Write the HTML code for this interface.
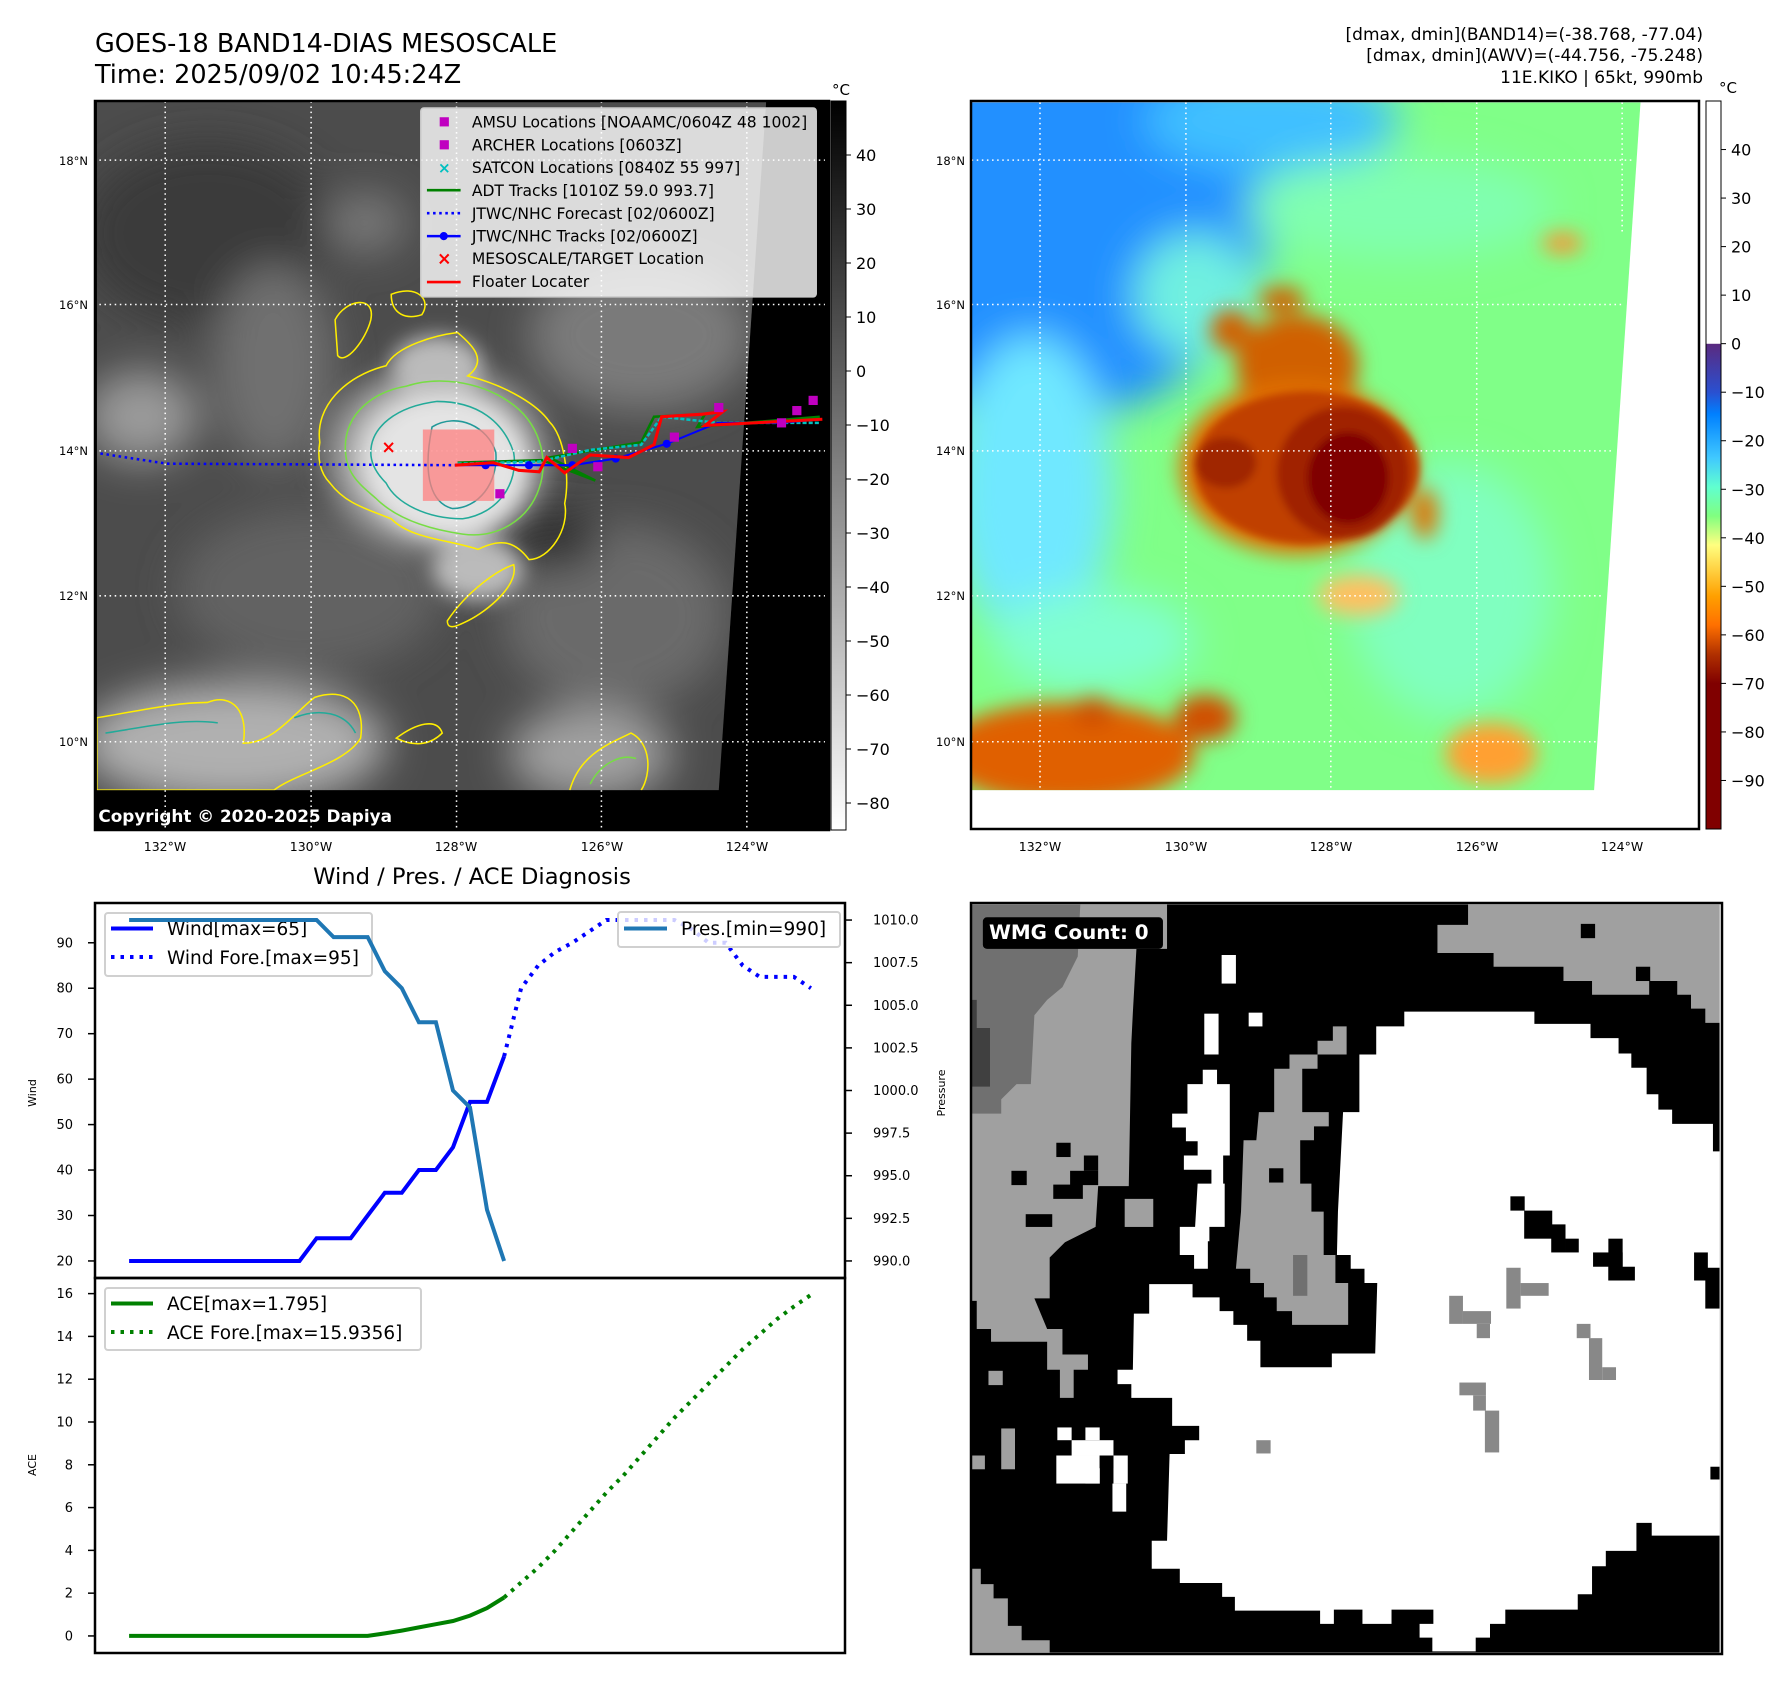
<!DOCTYPE html>
<html><head><meta charset="utf-8"><style>
html,body{margin:0;padding:0;background:#fff;}
body{width:1788px;height:1690px;position:relative;overflow:hidden;font-family:"Liberation Sans","DejaVu Sans",sans-serif;}
svg text{font-family:"DejaVu Sans","Liberation Sans",sans-serif;}
</style></head><body>
<svg id="root" width="1788" height="1690" viewBox="0 0 1788 1690" xmlns="http://www.w3.org/2000/svg">
<defs>
<filter id="b8" x="-50%" y="-50%" width="200%" height="200%"><feGaussianBlur stdDeviation="8"/></filter>
<filter id="b20" x="-50%" y="-50%" width="200%" height="200%"><feGaussianBlur stdDeviation="20"/></filter>
<filter id="b40" x="-50%" y="-50%" width="200%" height="200%"><feGaussianBlur stdDeviation="40"/></filter>
<linearGradient id="cb1" x1="0" y1="0" x2="0" y2="1"><stop offset="0" stop-color="#000"/><stop offset="1" stop-color="#fff"/></linearGradient>
<linearGradient id="cb2" x1="0" y1="0" x2="0" y2="1">
<stop offset="0" stop-color="#fff"/><stop offset="0.333" stop-color="#fff"/>
<stop offset="0.334" stop-color="#5a2a80"/><stop offset="0.4" stop-color="#2a50d0"/><stop offset="0.43" stop-color="#0080ff"/>
<stop offset="0.49" stop-color="#40c8ff"/><stop offset="0.53" stop-color="#60ffd0"/><stop offset="0.57" stop-color="#80ff80"/>
<stop offset="0.61" stop-color="#ffff80"/><stop offset="0.68" stop-color="#ffa000"/><stop offset="0.72" stop-color="#ff7000"/>
<stop offset="0.76" stop-color="#b03000"/><stop offset="0.8" stop-color="#800000"/><stop offset="1" stop-color="#800000"/></linearGradient>
<radialGradient id="stormG"><stop offset="0" stop-color="#f2f2f2"/><stop offset="0.55" stop-color="#d8d8d8"/><stop offset="1" stop-color="#d0d0d0" stop-opacity="0"/></radialGradient>
<clipPath id="clip1"><polygon points="33,42 1345,42 1252,1392 33,1392"/></clipPath>
<clipPath id="clip2"><polygon points="62,44 1373,44 1282,1392 62,1392"/></clipPath>
<clipPath id="clipW"><rect x="62" y="48" width="1466" height="1466"/></clipPath>
</defs>

<!-- titles -->
<text x="95" y="52" font-size="25.5">GOES-18 BAND14-DIAS MESOSCALE</text>
<text x="95" y="83" font-size="25.5">Time: 2025/09/02 10:45:24Z</text>
<g font-size="17" text-anchor="end">
<text x="1703" y="40">[dmax, dmin](BAND14)=(-38.768, -77.04)</text>
<text x="1703" y="61">[dmax, dmin](AWV)=(-44.756, -75.248)</text>
<text x="1703" y="83">11E.KIKO | 65kt, 990mb</text>
</g>

<!-- MAP 1 -->
<g>
<rect x="95" y="101" width="734" height="729" fill="#000"/>
<g transform="translate(80,80) scale(0.5102)">
<g clip-path="url(#clip1)">
<rect x="0" y="0" width="1500" height="1500" fill="#4c4c4c"/>
<g filter="url(#b40)">
<ellipse cx="250" cy="300" rx="250" ry="180" fill="#3a3a3a"/>
<ellipse cx="120" cy="660" rx="110" ry="90" fill="#9a9a9a"/>
<ellipse cx="380" cy="560" rx="120" ry="200" fill="#707070"/>
<ellipse cx="1100" cy="500" rx="220" ry="150" fill="#7a7a7a"/>
<ellipse cx="1050" cy="1050" rx="220" ry="180" fill="#6a6a6a"/>
<ellipse cx="450" cy="1000" rx="260" ry="160" fill="#626262"/>
<ellipse cx="300" cy="1300" rx="300" ry="120" fill="#b0b0b0"/>
<ellipse cx="1000" cy="1320" rx="160" ry="90" fill="#a0a0a0"/>
<ellipse cx="920" cy="900" rx="100" ry="60" fill="#333"/>
<ellipse cx="560" cy="280" rx="80" ry="60" fill="#777"/>
</g>
<g filter="url(#b20)">
<ellipse cx="700" cy="740" rx="250" ry="210" fill="url(#stormG)"/>
<ellipse cx="720" cy="760" rx="160" ry="140" fill="#e4e4e4"/>
<ellipse cx="780" cy="960" rx="90" ry="60" fill="#bbb"/>
<ellipse cx="700" cy="560" rx="90" ry="60" fill="#bbb"/>
</g>
<g fill="none" stroke-width="3">
<path d="M470,710 C460,640 520,580 600,560 C620,520 700,500 740,495 C770,520 800,550 760,580 C840,600 900,640 920,670 C950,700 960,780 950,830 C960,880 920,940 880,940 C850,900 820,900 780,920 C720,900 650,900 610,860 C560,840 520,830 490,790 C470,770 465,740 470,710 Z" stroke="#ffee00"/>
<path d="M520,720 C520,650 580,610 640,600 C700,580 780,590 840,630 C900,670 920,740 900,800 C880,860 820,900 750,890 C680,880 620,860 580,820 C545,790 520,770 520,720 Z" stroke="#77dd44"/>
<path d="M570,730 C570,680 620,640 700,630 C780,630 830,670 850,730 C860,790 820,850 750,860 C680,860 620,830 600,790 C580,770 570,750 570,730 Z" stroke="#22aa99"/>
<path d="M690,680 C740,650 800,680 815,730 C820,790 780,840 730,840 C690,830 670,780 690,680 Z" stroke="#229999"/>
<path d="M500,470 C520,430 580,420 570,470 C560,510 520,560 505,540 Z" stroke="#ffee00"/>
<path d="M610,420 C660,400 690,430 670,460 C640,470 610,460 610,420 Z" stroke="#ffee00"/>
<path d="M720,1060 C760,1000 820,960 850,950 C860,990 800,1040 760,1060 C740,1070 720,1080 720,1060 Z" stroke="#ffee00"/>
<path d="M33,1250 C100,1240 180,1220 250,1220 C300,1200 330,1240 320,1300 C380,1300 420,1240 460,1210 C520,1190 560,1220 550,1290 C520,1340 420,1360 380,1392 L33,1392 Z" stroke="#ffee00"/>
<path d="M50,1280 C120,1270 200,1250 270,1260 M420,1250 C470,1230 520,1240 540,1280" stroke="#22aa99"/>
<path d="M960,1392 C980,1320 1040,1300 1080,1280 C1120,1300 1120,1360 1100,1392" stroke="#ffee00"/>
<path d="M1000,1380 C1020,1340 1060,1320 1090,1330" stroke="#77dd44"/>
<path d="M620,1290 C660,1260 700,1250 710,1280 C690,1300 660,1310 620,1290 Z" stroke="#ffee00"/>
</g>
</g>
<g stroke="#fff" stroke-width="3" stroke-dasharray="3,7">
<line x1="167" y1="42" x2="167" y2="1470"/><line x1="453" y1="42" x2="453" y2="1470"/><line x1="738" y1="42" x2="738" y2="1470"/><line x1="1022" y1="42" x2="1022" y2="1470"/><line x1="1307" y1="42" x2="1307" y2="1470"/>
<line x1="28" y1="157" x2="1460" y2="157"/><line x1="28" y1="440" x2="1460" y2="440"/><line x1="28" y1="727" x2="1460" y2="727"/><line x1="28" y1="1011" x2="1460" y2="1011"/><line x1="28" y1="1297" x2="1460" y2="1297"/>
</g>
<rect x="672" y="685" width="140" height="140" fill="#ff8080" fill-opacity="0.75"/>
<polyline points="40,732 170,752 740,755" fill="none" stroke="#0000ff" stroke-width="5" stroke-dasharray="5,7"/>
<polyline points="740,750 905,745 1010,785 920,740 1100,710 1125,660 1225,655 1210,680 1450,660" fill="none" stroke="#008000" stroke-width="5"/>
<polyline points="740,752 900,748 1000,725 1100,715 1140,660 1250,672 1450,672" fill="none" stroke="#00c0c0" stroke-width="5" stroke-dasharray="8,4"/>
<polyline points="740,755 795,755 880,755 965,755 1050,742 1150,713 1250,672 1375,672 1450,665" fill="none" stroke="#0000ff" stroke-width="4"/>
<g fill="#0000ff"><circle cx="795" cy="755" r="8"/><circle cx="880" cy="755" r="8"/><circle cx="965" cy="755" r="8"/><circle cx="1050" cy="742" r="8"/><circle cx="1150" cy="713" r="8"/><circle cx="1375" cy="672" r="8"/></g>
<polyline points="735,755 810,750 860,765 900,768 915,740 950,770 1000,735 1075,740 1125,715 1140,660 1220,655 1260,650 1225,677 1455,665" fill="none" stroke="#ff0000" stroke-width="6"/>
<g fill="#c000c0"><rect x="814" y="802" width="18" height="18"/><rect x="1006" y="749" width="18" height="18"/><rect x="1156" y="691" width="18" height="18"/><rect x="1243" y="633" width="18" height="18"/><rect x="1396" y="639" width="18" height="18"/><rect x="1428" y="619" width="18" height="18"/><rect x="1366" y="663" width="18" height="18"/><rect x="956" y="713" width="18" height="18"/></g>
<text x="605" y="731" font-size="34" fill="#ff0000" text-anchor="middle" font-weight="bold">×</text>
<g>
<rect x="668" y="55" width="775" height="370" rx="6" fill="#fff" fill-opacity="0.8" stroke="#ccc" stroke-width="3"/>
<rect x="705" y="73" width="18" height="18" fill="#c000c0"/>
<rect x="705" y="118" width="18" height="18" fill="#c000c0"/>
<text x="714" y="182" font-size="30" fill="#00c0c0" text-anchor="middle" font-weight="bold">×</text>
<line x1="680" y1="216" x2="746" y2="216" stroke="#008000" stroke-width="5"/>
<line x1="680" y1="261" x2="746" y2="261" stroke="#0000ff" stroke-width="5" stroke-dasharray="5,7"/>
<line x1="680" y1="306" x2="746" y2="306" stroke="#0000ff" stroke-width="5"/><circle cx="713" cy="306" r="8" fill="#0000ff"/>
<text x="714" y="362" font-size="34" fill="#ff0000" text-anchor="middle" font-weight="bold">×</text>
<line x1="680" y1="396" x2="746" y2="396" stroke="#ff0000" stroke-width="5"/>
<g font-size="30.5" fill="#000">
<text x="768" y="93">AMSU Locations [NOAAMC/0604Z 48 1002]</text>
<text x="768" y="138">ARCHER Locations [0603Z]</text>
<text x="768" y="182">SATCON Locations [0840Z 55 997]</text>
<text x="768" y="227">ADT Tracks [1010Z 59.0 993.7]</text>
<text x="768" y="272">JTWC/NHC Forecast [02/0600Z]</text>
<text x="768" y="317">JTWC/NHC Tracks [02/0600Z]</text>
<text x="768" y="361">MESOSCALE/TARGET Location</text>
<text x="768" y="406">Floater Locater</text>
</g></g>
<text x="36" y="1454" font-size="33" font-weight="bold" fill="#fff">Copyright © 2020-2025 Dapiya</text>
</g>
<rect x="95" y="101" width="734" height="729" fill="none" stroke="#000" stroke-width="2.5"/>
</g>
<g font-size="11.5" text-anchor="end">
<text x="88" y="165">18°N</text><text x="88" y="309">16°N</text><text x="88" y="455">14°N</text><text x="88" y="600">12°N</text><text x="88" y="746">10°N</text>
</g>
<g font-size="12.5" text-anchor="middle">
<text x="165" y="851">132°W</text><text x="311" y="851">130°W</text><text x="456" y="851">128°W</text><text x="602" y="851">126°W</text><text x="747" y="851">124°W</text>
</g>
<g>
<rect x="831" y="101" width="15" height="729" fill="url(#cb1)" stroke="#000" stroke-width="1"/>
<text x="841" y="95" font-size="15" text-anchor="middle">°C</text>
<g id="cb1ticks" font-size="16"></g>
</g>

<!-- MAP 2 -->
<g>
<rect x="971" y="101" width="728" height="728" fill="#fff"/>
<g transform="translate(940,80) scale(0.5102)">
<g clip-path="url(#clip2)">
<rect x="0" y="0" width="1500" height="1500" fill="#80ff88"/>
<g filter="url(#b40)">
<ellipse cx="200" cy="250" rx="450" ry="420" fill="#2090ff"/>
<ellipse cx="650" cy="80" rx="250" ry="100" fill="#40c0ff"/>
<ellipse cx="180" cy="800" rx="160" ry="300" fill="#70e8ff"/>
<ellipse cx="500" cy="420" rx="120" ry="120" fill="#70f0e0"/>
<ellipse cx="900" cy="250" rx="300" ry="100" fill="#80ffb0"/>
<ellipse cx="1000" cy="1000" rx="200" ry="250" fill="#80ffc0"/>
<ellipse cx="300" cy="1100" rx="200" ry="100" fill="#80ffd0"/>
</g>
<g filter="url(#b20)">
<ellipse cx="250" cy="1320" rx="250" ry="100" fill="#e06000"/>
<ellipse cx="520" cy="1250" rx="60" ry="45" fill="#d05000"/>
<ellipse cx="300" cy="1240" rx="40" ry="30" fill="#d05000"/>
<ellipse cx="1080" cy="1320" rx="90" ry="60" fill="#ffa030"/>
<ellipse cx="820" cy="1010" rx="80" ry="40" fill="#ffc060"/>
<ellipse cx="700" cy="560" rx="120" ry="100" fill="#d06000"/>
<ellipse cx="700" cy="760" rx="230" ry="170" fill="#e07000"/>
<ellipse cx="570" cy="490" rx="40" ry="40" fill="#d06000"/>
<ellipse cx="670" cy="430" rx="45" ry="25" fill="#d06000"/>
<ellipse cx="950" cy="850" rx="25" ry="50" fill="#e07000"/>
<ellipse cx="1220" cy="320" rx="40" ry="20" fill="#ff9030"/>
</g>
<g filter="url(#b8)">
<ellipse cx="720" cy="760" rx="220" ry="150" fill="#c04000"/>
<ellipse cx="790" cy="770" rx="130" ry="130" fill="#a02000"/>
<ellipse cx="800" cy="780" rx="80" ry="90" fill="#800000"/>
<ellipse cx="560" cy="750" rx="60" ry="50" fill="#a02800"/>
</g>
</g>
<g stroke="#fff" stroke-width="3" stroke-dasharray="3,7">
<line x1="196" y1="44" x2="196" y2="1392"/><line x1="482" y1="44" x2="482" y2="1392"/><line x1="766" y1="44" x2="766" y2="1392"/><line x1="1052" y1="44" x2="1052" y2="1392"/><line x1="1337" y1="44" x2="1337" y2="300"/>
<line x1="62" y1="157" x2="1360" y2="157"/><line x1="62" y1="440" x2="1340" y2="440"/><line x1="62" y1="727" x2="1318" y2="727"/><line x1="62" y1="1011" x2="1298" y2="1011"/><line x1="62" y1="1297" x2="1286" y2="1297"/>
</g>
</g>
<rect x="971" y="101" width="728" height="728" fill="none" stroke="#000" stroke-width="2.5"/>
</g>
<g font-size="11.5" text-anchor="end">
<text x="965" y="165">18°N</text><text x="965" y="309">16°N</text><text x="965" y="455">14°N</text><text x="965" y="600">12°N</text><text x="965" y="746">10°N</text>
</g>
<g font-size="12.5" text-anchor="middle">
<text x="1040" y="851">132°W</text><text x="1186" y="851">130°W</text><text x="1331" y="851">128°W</text><text x="1477" y="851">126°W</text><text x="1622" y="851">124°W</text>
</g>
<g>
<rect x="1706" y="101" width="15" height="728" fill="url(#cb2)" stroke="#000" stroke-width="1"/>
<text x="1728" y="93" font-size="15" text-anchor="middle">°C</text>
<g id="cb2ticks" font-size="16"></g>
</g>

<!-- LINE CHARTS -->
<text x="472" y="884" font-size="22.6" text-anchor="middle">Wind / Pres. / ACE Diagnosis</text>
<g id="windChart"></g>
<g id="aceChart"></g>
<text transform="translate(36,1093) rotate(-90)" font-size="11" text-anchor="middle">Wind</text>
<text transform="translate(945,1093) rotate(-90)" font-size="11" text-anchor="middle">Pressure</text>
<text transform="translate(36,1465) rotate(-90)" font-size="11" text-anchor="middle">ACE</text>

<!-- WMG -->
<g>
<g transform="translate(940,880) scale(0.5102)">
<g clip-path="url(#clipW)">
<rect x="58" y="44" width="1474" height="1473" fill="#000"/>
<polygon fill="#a0a0a0" points="62,48 445,48 445,135 385,135 378,260 375,320 370,600 310,600 305,680 245,710 215,740 215,820 185,820 210,880 240,880 240,930 290,930 290,960 262,960 262,1015 235,1015 235,960 210,960 210,905 100,905 100,880 72,880 72,825 62,825"/>
<polygon fill="#707070" points="62,48 275,48 270,150 240,210 210,235 185,265 178,400 150,400 120,430 120,458 62,458"/>
<polygon fill="#404040" points="62,235 72,235 72,290 98,290 98,405 62,405"/>
<g fill="#000"><rect x="228" y="515" width="28" height="28"/><rect x="140" y="570" width="30" height="28"/><rect x="282" y="540" width="28" height="30"/><rect x="255" y="570" width="55" height="28"/><rect x="222" y="597" width="58" height="28"/><rect x="168" y="655" width="52" height="25"/></g>
<rect x="362" y="625" width="56" height="55" fill="#a0a0a0"/>
<polygon fill="#a0a0a0" points="770,287 797,287 797,342 740,342 740,370 710,370 710,455 762,455 762,483 733,483 733,510 706,510 706,595 728,595 728,650 752,650 752,735 775,735 775,790 800,790 800,872 690,872 690,845 660,845 660,818 635,818 635,790 608,790 608,762 580,762 590,650 595,510 620,510 625,455 655,455 655,370 685,370 685,342 740,342 740,315 770,315"/>
<rect x="645" y="565" width="28" height="28" fill="#000"/>
<rect x="692" y="735" width="28" height="80" fill="#707070"/>
<polygon fill="#a0a0a0" points="975,88 1035,88 1035,48 1528,48 1528,280 1500,280 1500,252 1472,252 1472,225 1445,225 1445,198 1390,198 1390,225 1278,225 1278,198 1222,198 1222,170 1085,170 1085,143 975,143"/>
<rect x="1256" y="86" width="28" height="28" fill="#000"/><rect x="1364" y="170" width="28" height="28" fill="#000"/>
<polygon fill="#fff" points="910,258 1165,258 1165,282 1275,282 1275,310 1330,310 1330,340 1355,340 1355,368 1385,368 1385,420 1408,420 1408,450 1435,450 1435,478 1515,478 1515,532 1528,532 1528,1285 1395,1285 1395,1260 1365,1260 1365,1315 1305,1315 1305,1345 1278,1345 1278,1400 1250,1400 1250,1430 1108,1430 1108,1458 1078,1458 1078,1485 1050,1485 1050,1512 965,1512 965,1485 940,1485 940,1458 967,1458 967,1430 885,1430 885,1458 828,1458 828,1430 772,1430 772,1458 745,1458 745,1432 578,1432 578,1405 553,1405 553,1378 470,1378 470,1350 415,1350 415,1295 445,1295 450,1125 480,1125 480,1098 508,1098 508,1070 455,1070 455,1015 375,1015 375,988 348,988 348,960 378,960 380,850 410,850 410,792 495,792 495,818 548,818 548,845 575,845 575,872 602,872 602,903 628,903 628,955 768,955 768,928 853,928 857,790 832,790 832,762 805,762 805,735 778,735 780,650 790,455 822,455 822,342 855,342 855,287 910,287"/>
<g fill="#000"><rect x="1118" y="620" width="28" height="28"/><rect x="1145" y="648" width="55" height="55"/><rect x="1198" y="675" width="28" height="55"/><rect x="1226" y="703" width="26" height="27"/><rect x="1310" y="703" width="28" height="82"/><rect x="1280" y="730" width="58" height="28"/><rect x="1310" y="758" width="52" height="27"/><rect x="1478" y="730" width="27" height="55"/><rect x="1500" y="760" width="28" height="80"/><rect x="1510" y="1150" width="18" height="25"/></g>
<g fill="#888"><rect x="1110" y="760" width="28" height="80"/><rect x="1138" y="790" width="55" height="25"/><rect x="998" y="815" width="27" height="55"/><rect x="1025" y="845" width="55" height="25"/><rect x="1052" y="870" width="26" height="28"/><rect x="1248" y="870" width="27" height="28"/><rect x="1272" y="898" width="26" height="82"/><rect x="1298" y="955" width="27" height="25"/><rect x="1018" y="985" width="52" height="25"/><rect x="1045" y="1010" width="25" height="30"/><rect x="1068" y="1040" width="28" height="82"/><rect x="620" y="1098" width="28" height="26"/></g>
<g fill="#fff"><rect x="552" y="147" width="28" height="56"/><rect x="518" y="262" width="28" height="80"/><rect x="605" y="260" width="27" height="27"/></g>
<polygon fill="#fff" points="515,372 543,372 543,400 568,400 568,540 555,540 555,595 558,595 558,680 528,680 528,708 525,708 525,762 498,762 498,735 470,735 470,680 500,680 505,595 532,595 532,568 478,568 478,540 505,540 505,512 482,512 482,485 455,485 455,458 485,458 485,400 515,400"/>
<polygon fill="#a0a0a0" points="62,1350 80,1350 80,1380 105,1380 105,1408 133,1408 133,1462 160,1462 160,1490 215,1490 215,1517 62,1517"/>
<g fill="#a0a0a0"><rect x="95" y="962" width="28" height="28"/><rect x="120" y="1075" width="27" height="80"/><rect x="62" y="1128" width="26" height="27"/></g>
<g fill="#fff"><rect x="230" y="1073" width="28" height="25"/><rect x="285" y="1073" width="28" height="25"/><rect x="258" y="1098" width="82" height="30"/><rect x="228" y="1128" width="85" height="55"/><rect x="340" y="1128" width="28" height="55"/><rect x="338" y="1183" width="27" height="55"/></g>
<rect x="313" y="1128" width="27" height="25" fill="#000"/><rect x="285" y="1153" width="28" height="30" fill="#fff"/>
</g>
<rect x="84" y="73" width="353" height="62" rx="8" fill="#000"/>
<text x="96" y="116" font-size="39" font-weight="bold" fill="#fff">WMG Count: 0</text>
</g>
<rect x="971" y="903" width="751" height="751" fill="none" stroke="#000" stroke-width="2.5"/>
</g>
</svg>
<script>
const windObs = [20,20,20,20,20,20,20,20,20,20,20,25,25,25,30,35,35,40,40,45,55,55,65];
const windFore = [65,80,85,88,90,92.5,95,95,95,95,95,93,90,90,85,82.5,82.5,82.5,80];
const presObs = [1010,1010,1010,1010,1010,1010,1010,1010,1010,1010,1010,1010,1009,1009,1009,1007,1006,1004,1004,1000,999,993,990];
const aceObs = [0,0,0,0,0,0,0,0,0,0,0,0,0,0,0,0.12,0.25,0.4,0.55,0.7,0.95,1.3,1.795];
const aceFore = [1.795,2.5,3.2,4.0,4.9,5.8,6.7,7.5,8.4,9.3,10.2,11.0,11.8,12.6,13.4,14.1,14.8,15.4,15.94];
const windTicks = [20,30,40,50,60,70,80,90];
const presTicks = [990,992.5,995,997.5,1000,1002.5,1005,1007.5,1010];
const aceTicks = [0,2,4,6,8,10,12,14,16];
const cb1Ticks = [40,30,20,10,0,-10,-20,-30,-40,-50,-60,-70,-80];
const cb2Ticks = [40,30,20,10,0,-10,-20,-30,-40,-50,-60,-70,-80,-90];
const foreStart = 22;

const NS='http://www.w3.org/2000/svg';
function mk(tag, attrs, parent){const e=document.createElementNS(NS,tag);for(const k in attrs)e.setAttribute(k,attrs[k]);parent.appendChild(e);return e;}
const L=95,R=845,T1=903,B1=1278,T2=1278,B2=1653;
const xS=i=>L+(i+2)/44*(R-L);
const yW=v=>B1-(v-16.25)/(98.75-16.25)*(B1-T1);
const yP=v=>B1-(v-989)/(1011-989)*(B1-T1);
const yA=v=>B2-(v+0.797)/(16.73+0.797)*(B2-T2);
const pts=(arr,off,fy)=>arr.map((v,i)=>xS(i+off).toFixed(1)+','+fy(v).toFixed(1)).join(' ');

const wc=document.getElementById('windChart');
let e;
e=mk('polyline',{points:pts(windObs,0,yW),fill:'none',stroke:'#0000ff','stroke-width':4},wc);


e=mk('polyline',{points:pts(windFore,foreStart,yW),fill:'none',stroke:'#0000ff','stroke-width':4,'stroke-dasharray':'3.5,6'},wc);


e=mk('g',{},wc);


mk('rect',{x:105,y:913,width:267,height:63,rx:3,fill:'#fff','fill-opacity':0.8,stroke:'#d0d0d0','stroke-width':2},e);
mk('line',{x1:111,y1:928.5,x2:153,y2:928.5,stroke:'#0000ff','stroke-width':4},e);
mk('line',{x1:111,y1:957,x2:153,y2:957,stroke:'#0000ff','stroke-width':4,'stroke-dasharray':'3.5,6'},e);
mk('text',{x:167,y:935,'font-size':18.5},e).textContent='Wind[max=65]';
mk('text',{x:167,y:964,'font-size':18.5},e).textContent='Wind Fore.[max=95]';
e=mk('polyline',{points:pts(presObs,0,yP),fill:'none',stroke:'#1f77b4','stroke-width':4},wc);


e=mk('g',{},wc);


mk('rect',{x:618,y:912,width:222,height:35,rx:3,fill:'#fff','fill-opacity':0.8,stroke:'#d0d0d0','stroke-width':2},e);
mk('line',{x1:624,y1:928.5,x2:667,y2:928.5,stroke:'#1f77b4','stroke-width':4},e);
mk('text',{x:681,y:935,'font-size':18.5},e).textContent='Pres.[min=990]';
mk('rect',{x:L,y:T1,width:R-L,height:B1-T1,fill:'none',stroke:'#000','stroke-width':2.5},wc);
windTicks.forEach(v=>{const y=yW(v);mk('line',{x1:L-7,y1:y,x2:L,y2:y,stroke:'#000','stroke-width':1.5},wc);const t=mk('text',{x:L-22,y:y+4.5,'font-size':13,'text-anchor':'end'},wc);t.textContent=v;});
presTicks.forEach(v=>{const y=yP(v);mk('line',{x1:R,y1:y,x2:R+7,y2:y,stroke:'#000','stroke-width':1.5},wc);const t=mk('text',{x:R+28,y:y+4.5,'font-size':13},wc);t.textContent=v.toFixed(1);});

const ac=document.getElementById('aceChart');
e=mk('polyline',{points:pts(aceObs,0,yA),fill:'none',stroke:'#008000','stroke-width':4},ac);


e=mk('polyline',{points:pts(aceFore,foreStart,yA),fill:'none',stroke:'#008000','stroke-width':4,'stroke-dasharray':'3.5,6'},ac);


e=mk('g',{},ac);


mk('rect',{x:105,y:1288,width:316,height:62,rx:3,fill:'#fff','fill-opacity':0.8,stroke:'#d0d0d0','stroke-width':2},e);
mk('line',{x1:111,y1:1303.5,x2:153,y2:1303.5,stroke:'#008000','stroke-width':4},e);
mk('line',{x1:111,y1:1332,x2:153,y2:1332,stroke:'#008000','stroke-width':4,'stroke-dasharray':'3.5,6'},e);
mk('text',{x:167,y:1310,'font-size':18.5},e).textContent='ACE[max=1.795]';
mk('text',{x:167,y:1339,'font-size':18.5},e).textContent='ACE Fore.[max=15.9356]';
mk('rect',{x:L,y:T2,width:R-L,height:B2-T2,fill:'none',stroke:'#000','stroke-width':2.5},ac);
aceTicks.forEach(v=>{const y=yA(v);mk('line',{x1:L-7,y1:y,x2:L,y2:y,stroke:'#000','stroke-width':1.5},ac);const t=mk('text',{x:L-22,y:y+4.5,'font-size':13,'text-anchor':'end'},ac);t.textContent=v;});

const c1=document.getElementById('cb1ticks');
cb1Ticks.forEach(v=>{const y=101+(50-v)/135*729;mk('line',{x1:846,y1:y,x2:851,y2:y,stroke:'#000'},c1);const t=mk('text',{x:856,y:y+6},c1);t.textContent=(v<0?'\u2212'+(-v):v);});
const c2=document.getElementById('cb2ticks');
cb2Ticks.forEach(v=>{const y=101+(50-v)/150*728;mk('line',{x1:1721,y1:y,x2:1726,y2:y,stroke:'#000'},c2);const t=mk('text',{x:1731,y:y+6},c2);t.textContent=(v<0?'\u2212'+(-v):v);});
</script>
</body></html>
